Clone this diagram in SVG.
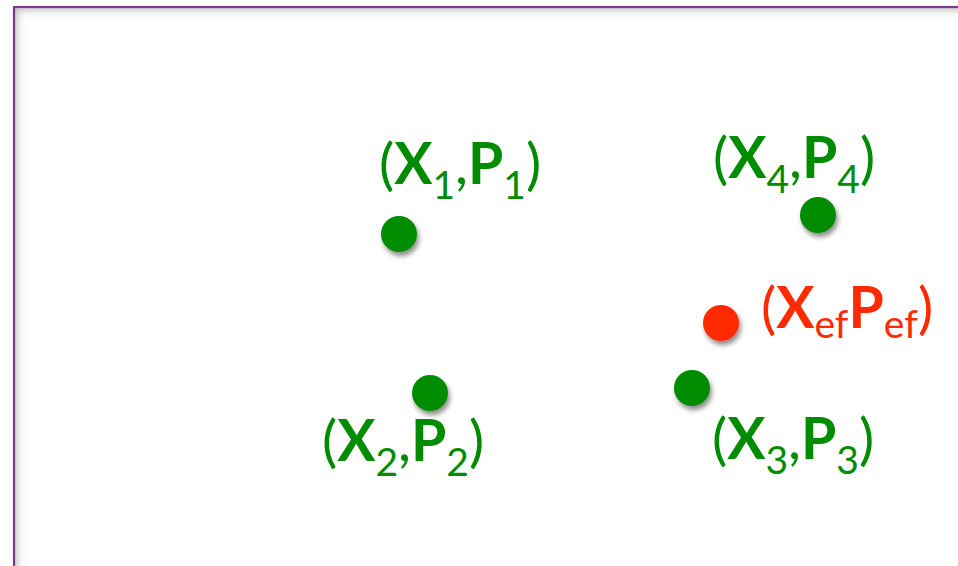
<svg xmlns="http://www.w3.org/2000/svg" width="958" height="566" viewBox="0 0 958 566">
<defs>
<filter id="ds" x="-50%" y="-50%" width="200%" height="200%">
<feGaussianBlur in="SourceAlpha" stdDeviation="2.5"/>
<feOffset dx="2" dy="4" result="b"/>
<feComponentTransfer><feFuncA type="linear" slope="0.45"/></feComponentTransfer>
<feMerge><feMergeNode/><feMergeNode in="SourceGraphic"/></feMerge>
</filter>
<filter id="inner" x="-10%" y="-10%" width="120%" height="120%">
<feGaussianBlur stdDeviation="4"/>
</filter>
<clipPath id="frameClip"><rect x="15" y="8" width="1000" height="600"/></clipPath>
</defs>
<style>
.lbl{font-family:Lato,"Open Sans","Liberation Sans",sans-serif;font-size:57px;}
.g{fill:#008c00;}
.r{fill:#ff2a00;}
.b{font-weight:bold;}
.s{font-size:39px;}
.dot{filter:url(#ds);}
</style>
<rect x="0" y="0" width="958" height="566" fill="#ffffff"/>
<g id="frame">
<g clip-path="url(#frameClip)">
<rect x="10" y="3" width="1000" height="600" fill="none" stroke="#a8a8a8" stroke-width="14" filter="url(#inner)" opacity="0.8"/>
</g>
<rect x="14" y="7" width="1000" height="600" fill="none" stroke="#7b3b8c" stroke-width="2.2"/>
</g>
<g id="node-p1">
<circle class="dot g" cx="399" cy="234" r="18"/>
<text class="lbl g" x="379" y="184">(<tspan class="b">X</tspan><tspan class="s" dy="15">1</tspan><tspan dy="-15">,</tspan><tspan class="b">P</tspan><tspan class="s" dy="15">1</tspan><tspan dy="-15">)</tspan></text>
</g>
<g id="node-p4">
<circle class="dot g" cx="818" cy="215" r="18"/>
<text class="lbl g" x="713" y="178">(<tspan class="b">X</tspan><tspan class="s" dy="15">4</tspan><tspan dy="-15">,</tspan><tspan class="b">P</tspan><tspan class="s" dy="15">4</tspan><tspan dy="-15">)</tspan></text>
</g>
<g id="node-pef">
<circle class="dot r" cx="721" cy="323" r="18"/>
<text class="lbl r" x="761" y="328">(<tspan class="b">X</tspan><tspan class="s" dy="10">ef</tspan><tspan class="b" dy="-10">P</tspan><tspan class="s" dy="10">ef</tspan><tspan dy="-10">)</tspan></text>
</g>
<g id="node-p2">
<circle class="dot g" cx="430" cy="393" r="18"/>
<text class="lbl g" x="322" y="461">(<tspan class="b">X</tspan><tspan class="s" dy="15">2</tspan><tspan dy="-15">,</tspan><tspan class="b">P</tspan><tspan class="s" dy="15">2</tspan><tspan dy="-15">)</tspan></text>
</g>
<g id="node-p3">
<circle class="dot g" cx="692" cy="388" r="18"/>
<text class="lbl g" x="712" y="459">(<tspan class="b">X</tspan><tspan class="s" dy="15">3</tspan><tspan dy="-15">,</tspan><tspan class="b">P</tspan><tspan class="s" dy="15">3</tspan><tspan dy="-15">)</tspan></text>
</g>
</svg>
